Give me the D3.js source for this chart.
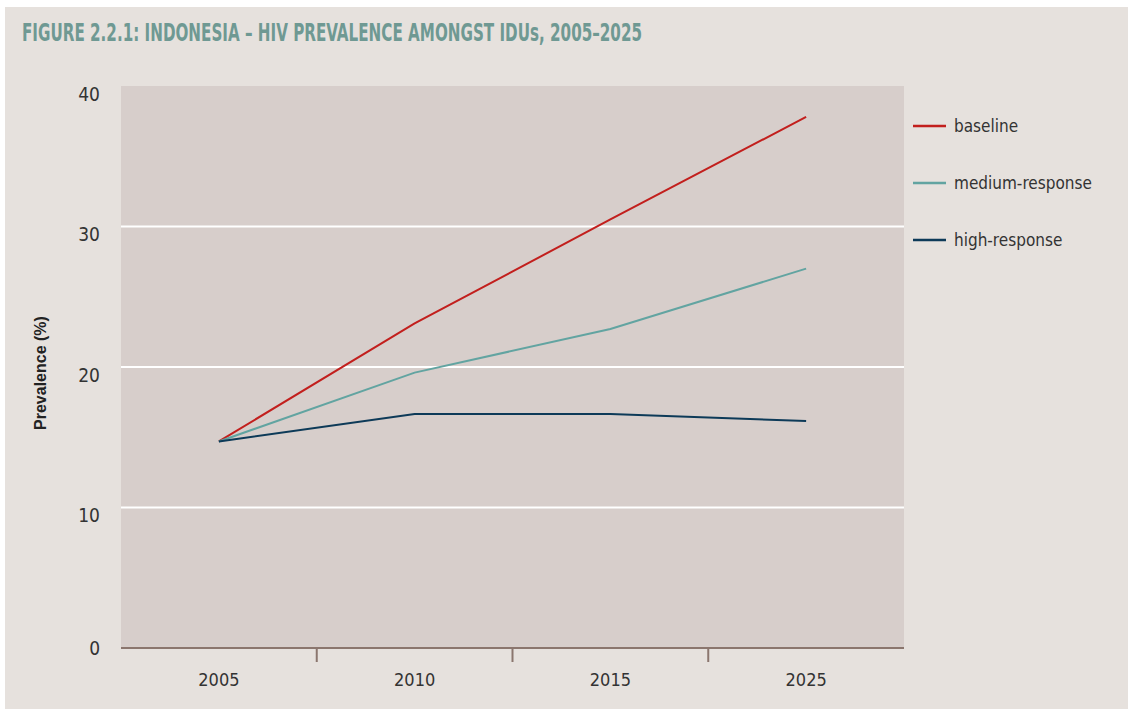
<!DOCTYPE html>
<html lang="en">
    <head>
        <meta charset="utf-8">
        <title>Indonesia HIV prevalence amongst IDUs</title>
        <script type="text/javascript" src="https://cdn.jsdelivr.net/npm/d3@7/dist/d3.min.js"></script>
        <style>
            body { margin: 0; background: #ffffff; }
            .cond { font-family: "Liberation Sans Narrow", "DejaVu Sans Condensed", "Roboto Condensed", sans-serif; font-stretch: condensed; }
        </style>
    </head>
    <body>
    <svg width='1128' height='709'></svg>
        <script type="text/javascript">
            var years = ["2005", "2010", "2015", "2025"];
            var baseline = [14.7, 23.1, 30.5, 37.8];
            var medium = [14.7, 19.6, 22.7, 27.0];
            var high = [14.7, 16.65, 16.65, 16.15];
            var yTicks = [0, 10, 20, 30, 40];
            var seriesNames = ["baseline", "medium-response", "high-response"];
            var seriesColors = ["#c21f1d", "#62a4a1", "#0d3a58"];

            var svg = d3.select('svg');
            var plotLeft = 121, plotRight = 904, plotTop = 86, plotBottom = 648;

            // page panel
            svg.append("rect")
                .attr("x", 5).attr("y", 7)
                .attr("width", 1123).attr("height", 702)
                .attr("fill", "#e6e1dd");

            svg.append("text")
                .attr("class", "cond")
                .attr("x", 22)
                .attr("y", 41)
                .attr("font-size", "25px")
                .attr("font-weight", "bold")
                .attr("fill", "#6f9993")
                .attr("textLength", 620)
                .attr("lengthAdjust", "spacingAndGlyphs")
                .text("FIGURE 2.2.1: INDONESIA \u2013 HIV PREVALENCE AMONGST IDUs, 2005\u20132025");

            var xScale = d3.scaleBand().domain(years).range([plotLeft, plotRight]),
                yScale = d3.scaleLinear().domain([0, 40]).range([plotBottom, plotTop]);

            svg.append("rect")
                .attr("x", plotLeft).attr("y", plotTop)
                .attr("width", plotRight - plotLeft).attr("height", plotBottom - plotTop)
                .attr("fill", "#d7cecb");

            // gridlines
            svg.selectAll(".grid")
                .data(yTicks.filter(function(d) { return d > 0 && d < 40; }))
                .enter().append("line")
                .attr("class", "grid")
                .attr("x1", plotLeft).attr("x2", plotRight)
                .attr("y1", function(d) { return yScale(d); })
                .attr("y2", function(d) { return yScale(d); })
                .attr("stroke", "#ffffff")
                .attr("stroke-width", 2);

            // y labels
            svg.selectAll(".ylab")
                .data(yTicks)
                .enter().append("text")
                .attr("class", "cond")
                .attr("x", 100)
                .attr("y", function(d) { return yScale(d) + (d == 0 ? 0 : 8); })
                .attr("dy", "0.35em")
                .attr("text-anchor", "end")
                .attr("font-size", "19px")
                .attr("fill", "#333333")
                .text(function(d) { return d; });

            svg.append("text")
                .attr("transform", "translate(46," + 373 + ") rotate(-90)")
                .attr("text-anchor", "middle")
                .attr("font-family", "Liberation Sans, Arial, sans-serif")
                .attr("font-weight", "bold")
                .attr("font-size", "16px")
                .attr("fill", "#222222")
                .text("Prevalence (%)");

            // x axis
            var xAxis = svg.append("g")
                .attr("transform", "translate(0," + plotBottom + ")")
                .call(d3.axisBottom(xScale).tickSize(0).tickPadding(0));
            xAxis.select(".domain").remove();
            xAxis.selectAll("text")
                .attr("class", "cond")
                .attr("y", 32)
                .attr("dy", "0.35em")
                .attr("font-size", "18px")
                .attr("fill", "#333333");

            svg.append("line")
                .attr("x1", plotLeft).attr("x2", plotRight)
                .attr("y1", plotBottom).attr("y2", plotBottom)
                .attr("stroke", "#8b766e")
                .attr("stroke-width", 2);

            svg.selectAll(".xtick")
                .data(years.slice(1))
                .enter().append("line")
                .attr("class", "xtick")
                .attr("x1", function(d) { return xScale(d); })
                .attr("x2", function(d) { return xScale(d); })
                .attr("y1", plotBottom).attr("y2", plotBottom + 14)
                .attr("stroke", "#8b766e")
                .attr("stroke-width", 2);

            // lines
            var line = d3.line()
                .x(function(d, i) { return xScale(years[i]) + xScale.bandwidth() / 2; })
                .y(function(d) { return yScale(d); });

            [baseline, medium, high].forEach(function(s, i) {
                svg.append("path")
                    .datum(s)
                    .attr("d", line)
                    .attr("fill", "none")
                    .attr("stroke", seriesColors[i])
                    .attr("stroke-width", 2);
            });

            // legend
            var legend = svg.selectAll(".legend")
                .data(seriesNames)
                .enter().append("g")
                .attr("transform", function(d, i) { return "translate(913," + (126 + i * 57) + ")"; });
            legend.append("line")
                .attr("x1", 0).attr("x2", 33)
                .attr("stroke", function(d, i) { return seriesColors[i]; })
                .attr("stroke-width", 2.5);
            legend.append("text")
                .attr("class", "cond")
                .attr("x", 41)
                .attr("dy", "0.35em")
                .attr("font-size", "17px")
                .attr("fill", "#333333")
                .text(function(d) { return d; });
        </script>
    </body>
</html>
